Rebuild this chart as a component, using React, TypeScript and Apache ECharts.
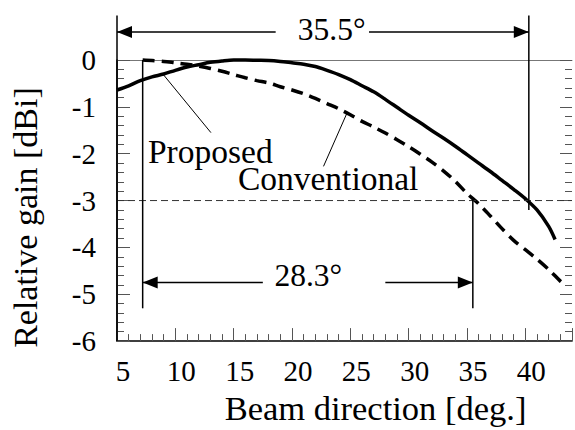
import React, { useEffect, useRef } from "react";
import * as echarts from "echarts";

const FONT = "Liberation Serif, Times New Roman, serif";

// Proposed antenna (solid)
const proposedX = [5, 6, 7, 8, 9, 10, 11, 12, 13, 14, 15, 16, 17, 18, 19, 20, 21, 22, 23, 24, 25, 26, 27, 28, 29, 30, 31, 32, 33, 34, 35, 36, 37, 38, 39, 40, 41, 42, 42.55];
const proposedY = [-0.64, -0.55, -0.44, -0.36, -0.3, -0.22, -0.15, -0.1, -0.05, -0.02, 0, 0, -0.005, -0.01, -0.03, -0.06, -0.09, -0.14, -0.22, -0.31, -0.42, -0.55, -0.68, -0.84, -1.01, -1.18, -1.34, -1.51, -1.67, -1.84, -2.02, -2.2, -2.38, -2.57, -2.76, -2.96, -3.2, -3.55, -3.83];

// Conventional antenna (dashed)
const conventionalX = [7.2, 8, 9, 10, 11, 12, 13, 14, 15, 16, 17, 18, 19, 20, 21, 22, 23, 24, 25, 26, 27, 28, 29, 30, 31, 32, 33, 34, 35, 36, 37, 38, 39, 40, 41, 42, 43, 43.3];
const conventionalY = [0, -0.01, -0.03, -0.06, -0.09, -0.13, -0.18, -0.24, -0.31, -0.38, -0.44, -0.49, -0.57, -0.64, -0.72, -0.82, -0.93, -1.04, -1.17, -1.31, -1.43, -1.56, -1.7, -1.85, -2.01, -2.18, -2.37, -2.59, -2.85, -3.07, -3.33, -3.6, -3.85, -4.05, -4.25, -4.47, -4.72, -4.78];

const xTickLabels = [5, 10, 15, 20, 25, 30, 35, 40];
const yTickLabels = [0, -1, -2, -3, -4, -5, -6];

// Annotations (data coordinates)
const halfPowerLevel = -3;
const beamSpans = [
  { from: 5, to: 40.3, y: 0.6, leftEnd: 18.6, rightStart: 26.6, labelX: 23.4, labelY: 0.66, text: "35.5°" },
  { from: 7.2, to: 35.5, y: -4.75, leftEnd: 17.5, rightStart: 28.0, labelX: 21.4, labelY: -4.6, text: "28.3°" },
];
const guideLines = [
  { x: 5, y1: 0.95, y2: -6 },
  { x: 40.3, y1: 0.95, y2: -3.2 },
  { x: 7.2, y1: 0, y2: -5.3 },
  { x: 35.5, y1: -2.96, y2: -5.3 },
];
const leaders = [
  { x1: 9.0, y1: -0.32, x2: 13.05, y2: -1.55 },
  { x1: 24.7, y1: -1.14, x2: 22.7, y2: -2.27 },
];
const curveLabels = [
  { x: 13.0, y: -1.95, text: "Proposed" },
  { x: 23.1, y: -2.52, text: "Conventional" },
];

type Item =
  | { kind: "span"; i: number }
  | { kind: "guide"; i: number }
  | { kind: "leader"; i: number }
  | { kind: "label"; i: number }
  | { kind: "half" };

const items: Item[] = [
  { kind: "half" },
  ...guideLines.map((_, i) => ({ kind: "guide", i } as Item)),
  ...beamSpans.map((_, i) => ({ kind: "span", i } as Item)),
  ...leaders.map((_, i) => ({ kind: "leader", i } as Item)),
  ...curveLabels.map((_, i) => ({ kind: "label", i } as Item)),
];

function arrowHead(tip: number[], dir: number) {
  const L = 15;
  const W = 6;
  return {
    type: "polygon",
    shape: { points: [[tip[0], tip[1]], [tip[0] - dir * L, tip[1] - W], [tip[0] - dir * L, tip[1] + W]] },
    style: { fill: "#000", stroke: "none" },
  };
}

function renderItem(params: any, api: any) {
  const it = items[params.dataIndex];
  const black = "#000";
  if (it.kind === "half") {
    const a = api.coord([5, halfPowerLevel]);
    const b = api.coord([44, halfPowerLevel]);
    return {
      type: "line",
      shape: { x1: a[0], y1: a[1], x2: b[0], y2: b[1] },
      style: { stroke: "#333", lineWidth: 1, lineDash: [7, 4] },
    };
  }
  if (it.kind === "guide") {
    const g = guideLines[it.i];
    const a = api.coord([g.x, g.y1]);
    const b = api.coord([g.x, g.y2]);
    return {
      type: "line",
      shape: { x1: a[0], y1: a[1], x2: b[0], y2: b[1] },
      style: { stroke: black, lineWidth: 1.5 },
    };
  }
  if (it.kind === "span") {
    const s = beamSpans[it.i];
    const p1 = api.coord([s.from, s.y]);
    const p2 = api.coord([s.leftEnd, s.y]);
    const p3 = api.coord([s.rightStart, s.y]);
    const p4 = api.coord([s.to, s.y]);
    const pl = api.coord([s.labelX, s.labelY]);
    return {
      type: "group",
      children: [
        { type: "line", shape: { x1: p1[0], y1: p1[1], x2: p2[0], y2: p2[1] }, style: { stroke: black, lineWidth: 1.5 } },
        { type: "line", shape: { x1: p3[0], y1: p3[1], x2: p4[0], y2: p4[1] }, style: { stroke: black, lineWidth: 1.5 } },
        arrowHead(p1, -1),
        arrowHead(p4, 1),
        {
          type: "text",
          style: {
            x: pl[0], y: pl[1], text: s.text, fill: black, fontSize: 31.5, fontFamily: FONT,
            align: "center", verticalAlign: "middle",
          },
        },
      ],
    };
  }
  if (it.kind === "leader") {
    const l = leaders[it.i];
    const a = api.coord([l.x1, l.y1]);
    const b = api.coord([l.x2, l.y2]);
    return {
      type: "line",
      shape: { x1: a[0], y1: a[1], x2: b[0], y2: b[1] },
      style: { stroke: black, lineWidth: 1 },
    };
  }
  const c = curveLabels[(it as any).i];
  const p = api.coord([c.x, c.y]);
  return {
    type: "text",
    style: {
      x: p[0], y: p[1], text: c.text, fill: black, fontSize: 33.5, fontFamily: FONT,
      align: "center", verticalAlign: "middle",
    },
  };
}

export default function App() {
  const ref = useRef<HTMLDivElement>(null);
  useEffect(() => {
    if (!ref.current) return;
    const chart = echarts.init(ref.current, undefined, { renderer: "svg" });
    const tickColor = "#555";
    const option: any = {
      animation: false,
      backgroundColor: "#fff",
      textStyle: { fontFamily: FONT },
      grid: { left: 116, right: 0, top: 60, bottom: 72, containLabel: false },
      xAxis: [
        {
          type: "value", min: 5, max: 44, interval: 5, position: "bottom",
          axisLine: { show: true, onZero: false, lineStyle: { color: "#000", width: 1.5 } },
          axisTick: { show: true, inside: true, length: 13, lineStyle: { color: tickColor, width: 1 } },
          axisLabel: {
            color: "#000", fontSize: 29, fontFamily: FONT, margin: 15, padding: [0, 0, 0, 12],
            formatter: (v: number) => (xTickLabels.includes(v) ? String(v) : ""),
          },
          splitLine: { show: false },
          name: "Beam direction [deg.]", nameLocation: "middle", nameGap: 40,
          nameTextStyle: { color: "#000", fontSize: 34.5, fontFamily: FONT, padding: [0, 0, 0, 62] },
        },
        {
          type: "value", min: 5, max: 44, position: "top",
          axisLine: { show: true, onZero: false, lineStyle: { color: "#777", width: 1 } },
          axisTick: { show: false }, axisLabel: { show: false }, splitLine: { show: false },
        },
        {
          type: "value", min: 5, max: 44, interval: 1, position: "bottom",
          axisLine: { show: false, onZero: false },
          axisTick: { show: true, inside: true, length: 7, lineStyle: { color: tickColor, width: 1 } },
          axisLabel: { show: false }, splitLine: { show: false },
        },
      ],
      yAxis: [
        {
          type: "value", min: -6, max: 0, interval: 1, position: "left",
          axisLine: { show: true, onZero: false, lineStyle: { color: "#000", width: 1.5 } },
          axisTick: { show: true, inside: true, length: 13, lineStyle: { color: tickColor, width: 1 } },
          minorTick: { show: true, splitNumber: 5, length: 7, lineStyle: { color: tickColor, width: 1 } },
          axisLabel: {
            color: "#000", fontSize: 29, fontFamily: FONT, margin: 21, padding: [5, 0, 0, 0],
            formatter: (v: number) => (yTickLabels.includes(v) ? String(v) : ""),
          },
          splitLine: { show: false },
          name: "Relative gain [dBi]", nameLocation: "middle", nameGap: 75, nameRotate: 90,
          nameTextStyle: { color: "#000", fontSize: 34, fontFamily: FONT, padding: [0, 34, 0, 0] },
        },
        {
          type: "value", min: -6, max: 0, interval: 1, position: "right",
          axisLine: { show: false, onZero: false },
          axisTick: { show: true, inside: true, length: 12, lineStyle: { color: tickColor, width: 1 } },
          minorTick: { show: true, splitNumber: 5, length: 7, lineStyle: { color: tickColor, width: 1 } },
          axisLabel: { show: false }, splitLine: { show: false },
        },
      ],
      series: [
        {
          name: "Proposed", type: "line", xAxisIndex: 0, yAxisIndex: 0, clip: false,
          data: proposedX.map((x, i) => [x, proposedY[i]]),
          symbol: "none", smooth: 0.3,
          lineStyle: { color: "#000", width: 3.5 },
          z: 3,
        },
        {
          name: "Conventional", type: "line", xAxisIndex: 0, yAxisIndex: 0, clip: false,
          data: conventionalX.map((x, i) => [x, conventionalY[i]]),
          symbol: "none", smooth: 0.3,
          lineStyle: { color: "#000", width: 3.5, type: [12, 7] },
          z: 3,
        },
        {
          name: "annotations", type: "custom", xAxisIndex: 0, yAxisIndex: 0, clip: false,
          data: items.map((_, i) => [10, -1, i]),
          renderItem,
          silent: true,
          z: 4,
        },
      ],
    };
    chart.setOption(option);
    return () => chart.dispose();
  }, []);
  return (
    <div
      ref={ref}
      style={{ position: "absolute", left: 0, top: 0, width: 575, height: 430, background: "#fff" }}
    />
  );
}
